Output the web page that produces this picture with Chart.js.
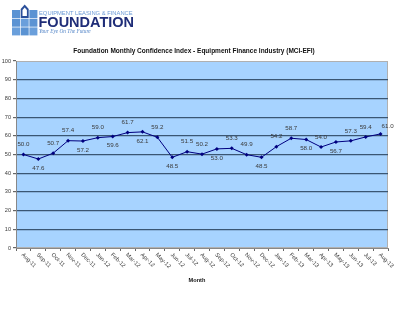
<!DOCTYPE html>
<html>
<head>
<meta charset="utf-8">
<script src="https://cdn.jsdelivr.net/npm/chart.js@4"></script>
<style>
  body { margin: 0; background: #fff; }
  #wrap { position: relative; width: 400px; height: 326px; }
  #logo { position: absolute; left: 0; top: 0; }
  canvas { position: absolute; left: 0; top: 0; }
</style>
</head>
<body>
<div id="wrap">
  <canvas id="mci" width="400" height="326"></canvas>
  <svg id="logo" width="150" height="40" xmlns="http://www.w3.org/2000/svg">
    <g fill="#5b93d3">
      <rect x="12" y="10" width="8" height="8"/>
      <rect x="29.4" y="10" width="8" height="8"/>
      <rect x="12" y="18.7" width="8" height="8"/>
      <rect x="20.7" y="18.7" width="8" height="8" fill="#6a9fdb"/>
      <rect x="29.4" y="18.7" width="8" height="8"/>
      <rect x="12" y="27.4" width="8" height="8" fill="#6a9fdb"/>
      <rect x="20.7" y="27.4" width="8" height="8"/>
      <rect x="29.4" y="27.4" width="8" height="8" fill="#6a9fdb"/>
    </g>
    <polygon points="20.7,18 20.7,9 24.7,4.5 28.7,9 28.7,18" fill="#2a4f9a"/>
    <polygon points="22.5,16 22.5,10 24.7,7.5 26.9,10 26.9,16" fill="#fff"/>
    <text x="39" y="14.8" font-family="Liberation Sans, Arial, sans-serif" font-size="5.8" fill="#6b9ad6">EQUIPMENT LEASING &amp; FINANCE</text>
    <text x="38.5" y="27" font-family="Liberation Sans, Arial, sans-serif" font-size="14.5" font-weight="bold" fill="#1f2d78">FOUNDATION</text>
    <text x="39" y="33" font-family="Liberation Serif, Times New Roman, serif" font-style="italic" font-size="5.3" fill="#4f82c6">Your Eye On The Future</text>
  </svg>
</div>
<script>
// MCI-EFI monthly readings, Aug-11 .. Aug-13
const months = ['Aug-11', 'Sep-11', 'Oct-11', 'Nov-11', 'Dec-11', 'Jan-12', 'Feb-12', 'Mar-12', 'Apr-12',
  'May-12', 'Jun-12', 'Jul-12', 'Aug-12', 'Sep-12', 'Oct-12', 'Nov-12', 'Dec-12', 'Jan-13', 'Feb-13',
  'Mar-13', 'Apr-13', 'May-13', 'Jun-13', 'Jul-13', 'Aug-13'];
const mciValues = [50.0, 47.6, 50.7, 57.4, 57.2, 59.0, 59.6, 61.7, 62.1, 59.2, 48.5, 51.5, 50.2, 53.0,
  53.3, 49.9, 48.5, 54.2, 58.7, 58.0, 54.0, 56.7, 57.3, 59.4, 61.0];
const yTicks = [0, 10, 20, 30, 40, 50, 60, 70, 80, 90, 100];

// where each value label sits relative to its point
const labelSide = ['up', 'down', 'up', 'up', 'down', 'up', 'down', 'up', 'down', 'up', 'down', 'up', 'up',
  'down', 'up', 'up', 'down', 'up', 'up', 'down', 'up', 'down', 'up', 'up', 'right'];

const FONT = 'Liberation Sans, Arial, sans-serif';

const plotBg = {
  id: 'plotBg',
  beforeDraw(chart) {
    const { ctx, chartArea: a } = chart;
    ctx.save();
    ctx.fillStyle = '#a7d3ff';
    ctx.fillRect(a.left, a.top, a.right - a.left, a.bottom - a.top);
    ctx.strokeStyle = '#b0b0b0';
    ctx.lineWidth = 1;
    ctx.strokeRect(a.left + 0.5, a.top + 0.5, a.right - a.left - 1, a.bottom - a.top - 1);
    ctx.restore();
  }
};

const valueLabels = {
  id: 'valueLabels',
  afterDatasetsDraw(chart) {
    const { ctx } = chart;
    const pts = chart.getDatasetMeta(0).data;
    ctx.save();
    ctx.font = '6.2px ' + FONT;
    ctx.fillStyle = '#3a3a3a';
    ctx.textAlign = 'center';
    ctx.textBaseline = 'middle';
    pts.forEach((p, i) => {
      const txt = mciValues[i].toFixed(1);
      if (labelSide[i] === 'up') ctx.fillText(txt, p.x, p.y - 10);
      else if (labelSide[i] === 'down') ctx.fillText(txt, p.x, p.y + 9);
      else ctx.fillText(txt, p.x + 7, p.y - 8);
    });
    ctx.restore();
  }
};

const monthLabels = {
  id: 'monthLabels',
  afterDraw(chart) {
    const { ctx, chartArea: a } = chart;
    const xs = chart.scales.x;
    ctx.save();
    ctx.font = '5.7px ' + FONT;
    ctx.fillStyle = '#3a3a3a';
    ctx.textAlign = 'left';
    ctx.textBaseline = 'middle';
    months.forEach((m, i) => {
      const x = xs.getPixelForValue(i);
      ctx.save();
      ctx.translate(x - 1, a.bottom + 6);
      ctx.rotate(Math.PI / 4);
      ctx.fillText(m, 0, 0);
      ctx.restore();
    });
    ctx.font = 'bold 5.6px ' + FONT;
    ctx.fillStyle = '#111';
    ctx.textAlign = 'center';
    ctx.fillText('Month', (a.left + a.right) / 2 - 5, 280);
    ctx.restore();
  }
};

new Chart(document.getElementById('mci'), {
  type: 'line',
  data: {
    labels: months,
    datasets: [{
      data: mciValues,
      borderColor: '#000080',
      borderWidth: 1,
      backgroundColor: '#000080',
      pointStyle: 'rectRot',
      pointRadius: 2,
      pointBackgroundColor: '#000080',
      pointBorderWidth: 0,
      tension: 0
    }]
  },
  options: {
    responsive: false,
    animation: false,
    layout: { padding: { top: 47, left: 0, right: 12, bottom: 0 } },
    plugins: {
      legend: { display: false },
      tooltip: { enabled: false },
      title: {
        display: true,
        text: 'Foundation Monthly Confidence Index - Equipment Finance Industry (MCI-EFI)',
        color: '#111',
        font: { family: FONT, size: 6.5, weight: 'bold' },
        padding: { top: 0, bottom: 6.2 }
      }
    },
    scales: {
      x: {
        offset: true,
        afterFit(scale) { scale.height = 78; },
        grid: { offset: true, drawOnChartArea: false, tickLength: 3, color: '#666' },
        border: { color: '#888' },
        ticks: { display: false }
      },
      y: {
        min: 0,
        max: 100,
        afterFit(scale) { scale.width = 16; },
        afterBuildTicks(scale) { scale.ticks = yTicks.map(v => ({ value: v })); },
        grid: {
          color: (c) => (c.tick && (c.tick.value === 0 || c.tick.value === 100)) ? 'rgba(0,0,0,0)' : '#3a5673',
          lineWidth: 1.2,
          tickColor: '#666',
          tickLength: 3
        },
        border: { color: '#888' },
        ticks: { color: '#3a3a3a', padding: 2, font: { family: FONT, size: 5.6 } }
      }
    }
  },
  plugins: [plotBg, valueLabels, monthLabels]
});
</script>
</body>
</html>
